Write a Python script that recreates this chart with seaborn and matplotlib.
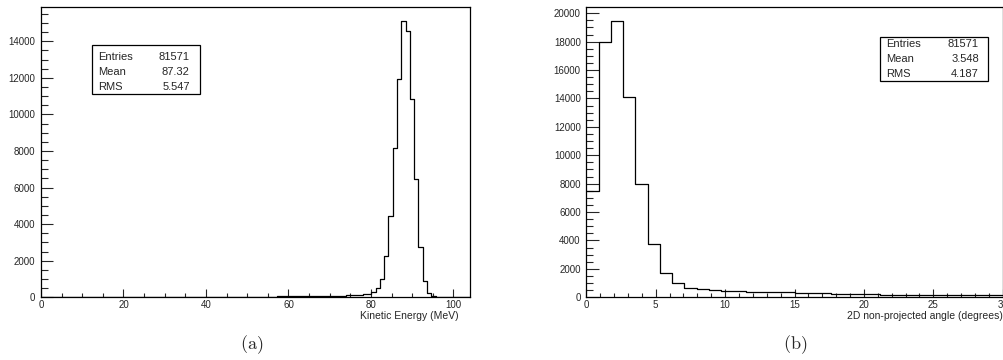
import numpy as np
import pandas as pd
import matplotlib
matplotlib.use("Agg")
import matplotlib.pyplot as plt
import seaborn as sns
from matplotlib.ticker import MultipleLocator
from matplotlib.patches import Rectangle

# kinetic energy histogram: 100 bins over 0-104 MeV
energy_range = (0, 104)
energy_counts = [
    8, 10, 9, 11, 10, 12, 10, 11, 12, 13, 12, 13, 14, 13, 14, 15, 14, 15, 16, 16,
    17, 17, 18, 18, 19, 19, 20, 20, 21, 21, 22, 22, 23, 23, 24, 24, 25, 26, 26, 27,
    28, 28, 29, 30, 31, 32, 33, 34, 35, 36, 37, 38, 40, 41, 42, 44, 45, 47,
    49, 51, 53, 55, 58, 61, 64, 68, 72, 76, 81, 87, 94, 102, 112, 124, 140, 160,
    185, 290, 490, 1000, 2260, 4460, 8160, 11940, 15090, 14560, 10840, 6450,
    2770, 910, 250, 90, 25, 10, 5, 3, 2, 1, 1, 0,
]
energy_stats = [("Entries", "81571"), ("Mean", "87.32"), ("RMS", "5.547")]

# 2D non-projected angle histogram: 34 bins over 0-30 degrees
angle_range = (0, 30)
angle_counts = [
    7500, 17960, 19450, 14130, 7960, 3730, 1730, 990, 680, 560, 500, 460,
    430, 400, 380, 360, 340, 320, 300, 270, 250, 240, 220, 200, 180, 170,
    165, 160, 155, 150, 145, 140, 135, 130,
]
angle_stats = [("Entries", "81571"), ("Mean", "3.548"), ("RMS", "4.187")]

sns.set_style("ticks")
plt.rcParams["font.family"] = ["Liberation Sans", "DejaVu Sans"]
plt.rcParams["mathtext.fontset"] = "cm"

fig = plt.figure(figsize=(10.04, 3.6), dpi=100)
ax1 = fig.add_axes([0.0408, 0.1742, 0.4273, 0.8056])
ax2 = fig.add_axes([0.5840, 0.1742, 0.4147, 0.8056])


def draw_hist(ax, counts, rng, ymax):
    n = len(counts)
    edges = np.linspace(rng[0], rng[1], n + 1)
    df = pd.DataFrame({"center": 0.5 * (edges[:-1] + edges[1:]), "count": counts})
    sns.histplot(data=df, x="center", weights="count", bins=n, binrange=rng,
                 element="step", fill=False, color="black", linewidth=0.9, ax=ax)
    ax.set_xlim(rng)
    ax.set_ylim(0, ymax)
    ax.set_xlabel("")
    ax.set_ylabel("")
    for s in ax.spines.values():
        s.set_visible(True)
        s.set_linewidth(0.9)
        s.set_color("black")


def stats_box(ax, rows, x0, x1, y0, y1, xt, xv, ys):
    ax.add_patch(Rectangle((x0, y0), x1 - x0, y1 - y0, transform=ax.transAxes,
                           fill=False, lw=0.9, edgecolor="black", zorder=5))
    for (name, val), y in zip(rows, ys):
        ax.text(xt, y, name, transform=ax.transAxes, fontsize=8, va="center", ha="left")
        ax.text(xv, y, val, transform=ax.transAxes, fontsize=8, va="center", ha="right")


# (a) kinetic energy
draw_hist(ax1, energy_counts, energy_range, 15860)
ax1.xaxis.set_major_locator(MultipleLocator(20))
ax1.xaxis.set_minor_locator(MultipleLocator(5))
ax1.yaxis.set_major_locator(MultipleLocator(2000))
ax1.yaxis.set_minor_locator(MultipleLocator(500))
ax1.tick_params(axis="y", which="major", direction="in", length=8.5, width=0.8, labelsize=7, pad=4)
ax1.tick_params(axis="y", which="minor", direction="in", length=5, width=0.8)
ax1.tick_params(axis="x", which="major", direction="in", length=6, width=0.8, labelsize=7, pad=2)
ax1.tick_params(axis="x", which="minor", direction="in", length=3, width=0.8)
ax1.text(0.974, -0.064, "Kinetic Energy (MeV)", transform=ax1.transAxes,
         fontsize=7.5, ha="right", va="center")
stats_box(ax1, energy_stats, 0.119, 0.371, 0.701, 0.870, 0.133, 0.347,
          [0.829, 0.777, 0.725])

# (b) angle
draw_hist(ax2, angle_counts, angle_range, 20420)
ax2.xaxis.set_major_locator(MultipleLocator(5))
ax2.xaxis.set_minor_locator(MultipleLocator(1))
ax2.yaxis.set_major_locator(MultipleLocator(2000))
ax2.yaxis.set_minor_locator(MultipleLocator(500))
ax2.tick_params(axis="y", which="major", direction="in", length=9.5, width=0.8, labelsize=7, pad=4)
ax2.tick_params(axis="y", which="minor", direction="in", length=5, width=0.8)
ax2.tick_params(axis="x", which="major", direction="in", length=6, width=0.8, labelsize=7, pad=2)
ax2.tick_params(axis="x", which="minor", direction="in", length=3, width=0.8)
ax2.text(1.0, -0.064, "2D non-projected angle (degrees)", transform=ax2.transAxes,
         fontsize=7.5, ha="right", va="center")
stats_box(ax2, angle_stats, 0.705, 0.965, 0.746, 0.898, 0.720, 0.943,
          [0.875, 0.822, 0.770])

fig.text(0.251, 0.044, r"$\mathrm{(a)}$", fontsize=13, ha="center", va="center")
fig.text(0.792, 0.044, r"$\mathrm{(b)}$", fontsize=13, ha="center", va="center")

fig.savefig("out.png", dpi=100)
